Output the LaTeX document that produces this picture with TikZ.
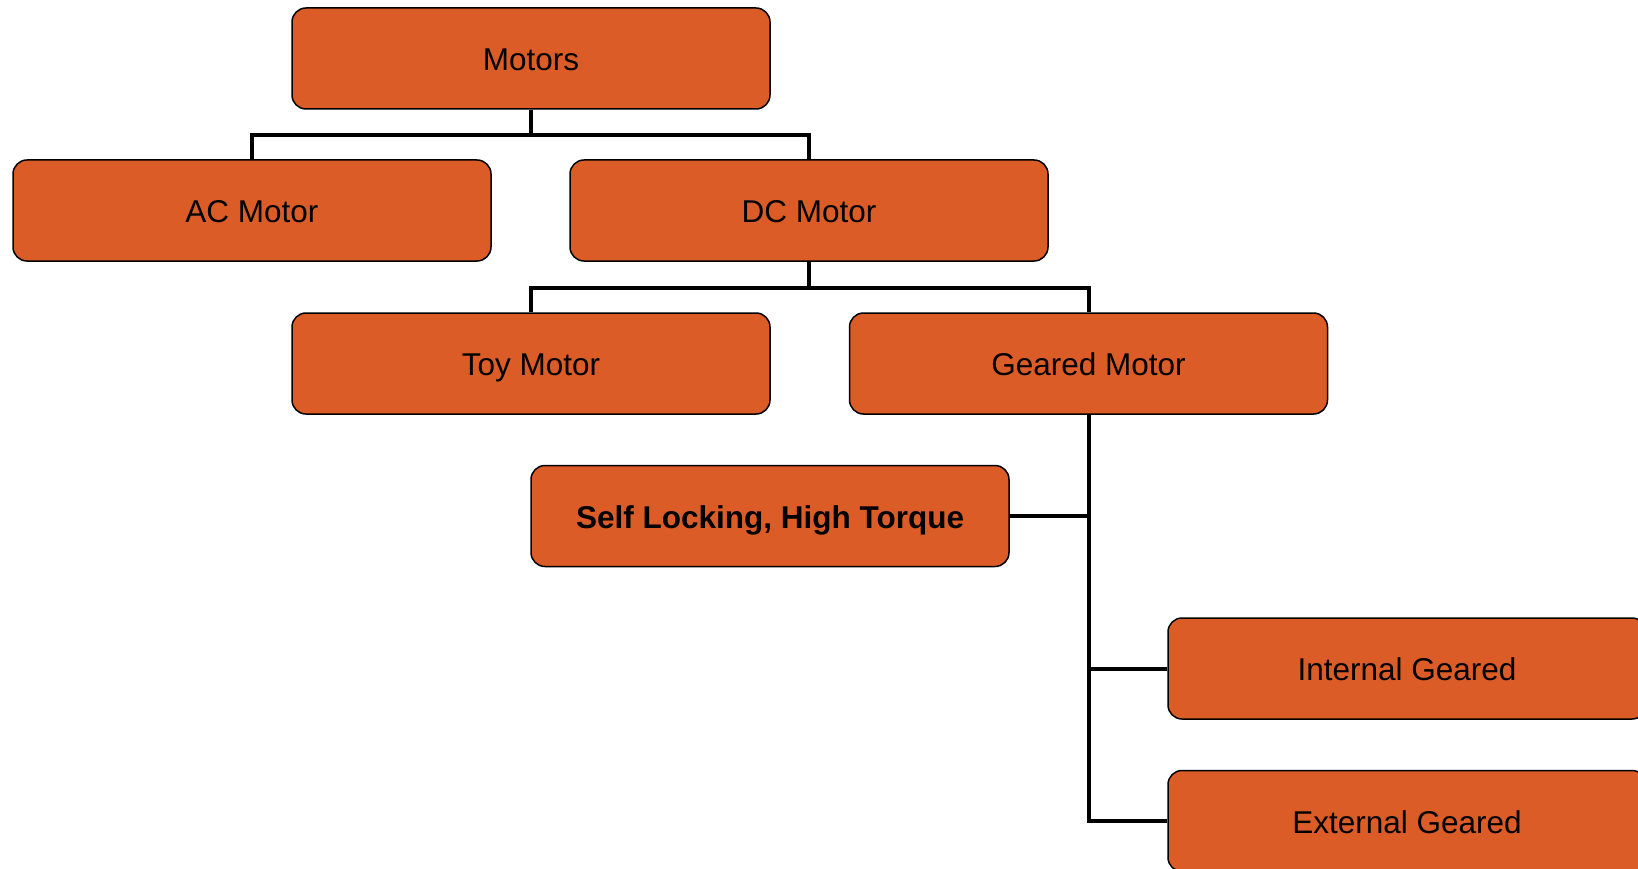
\documentclass[tikz,border=0pt]{standalone}
\usepackage{fontspec}
\setmainfont{Liberation Sans}
\definecolor{boxfill}{RGB}{220,92,40}
\tikzset{
  motorbox/.style={draw=black, line width=1.5pt, fill=boxfill, rounded corners=14pt,
    minimum width=478pt, minimum height=101pt, inner sep=0pt,
    text height=24pt, text depth=0pt,
    font=\fontsize{31.5}{38}\selectfont, text=black},
  link/.style={draw=black, line width=4pt}
}
\begin{document}
\begin{tikzpicture}[x=1pt, y=-1pt]
\useasboundingbox (0,0) rectangle (1638,869);

% tree of motor types
\node[motorbox] (motors) at (531,58.5) {Motors};
\node[motorbox] (ac) at (252,210.5) {AC Motor};
\node[motorbox] (dc) at (809,210.5) {DC Motor};
\node[motorbox] (toy) at (531,363.5) {Toy Motor};
\node[motorbox] (geared) at (1088.5,363.5) {Geared Motor};
\node[motorbox, font=\fontsize{31.5}{38}\selectfont\bfseries] (self) at (770,516) {Self Locking, High Torque};
\node[motorbox] (internal) at (1407,668.5) {Internal Geared};
\node[motorbox] (external) at (1407,821) {External Geared};

% junction points of the horizontal buses
\coordinate (j1) at (531,135);
\coordinate (j2) at (809,288);

% connectors
\draw[link] (motors.south) -- (j1);
\draw[link] (ac.north) |- (j1) -| (dc.north);
\draw[link] (dc.south) -- (j2);
\draw[link] (toy.north) |- (j2) -| (geared.north);
\draw[link] (geared.south) |- (external.west);
\draw[link] (self.east) -- (self.east -| geared.south);
\draw[link] (internal.west) -- (internal.west -| geared.south);
\end{tikzpicture}
\end{document}
